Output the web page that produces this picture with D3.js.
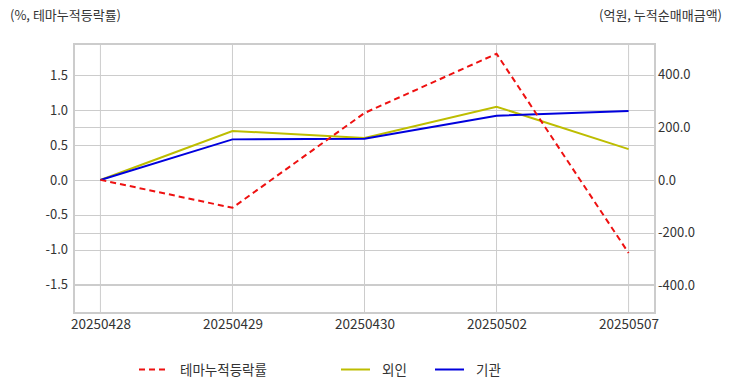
<!DOCTYPE html>
<html>
<head>
<meta charset="utf-8">
<script src="https://cdn.jsdelivr.net/npm/d3@7"></script>
<style>
  html, body { margin: 0; padding: 0; background: #fff; }
  svg text { font-family: "Noto Sans CJK KR", "Noto Sans", sans-serif; fill: #333; }
</style>
</head>
<body>
<svg id="chart" width="732" height="392"></svg>
<script>
const categories = ["20250428", "20250429", "20250430", "20250502", "20250507"];
const themeReturn = [0.0, -0.40, 0.96, 1.81, -1.05];      // %, 테마누적등락률 (left axis)
const foreignNet = [0, 186, 159, 278, 117];                // 억원, 외인 (right axis)
const instNet = [0, 154, 156, 244, 262];                   // 억원, 기관 (right axis)
const leftTicks = [-1.5, -1.0, -0.5, 0.0, 0.5, 1.0, 1.5];
const rightTicks = [-400, -200, 0, 200, 400];
const leftTitle = "(%, 테마누적등락률)";
const rightTitle = "(억원, 누적순매매금액)";
const seriesNames = ["테마누적등락률", "외인", "기관"];

const svg = d3.select("#chart");
const m = { left: 74, right: 655, top: 44, bottom: 313 };

const x = d3.scalePoint().domain(categories).range([m.left, m.right]).padding(0.2);
const yL = d3.scaleLinear().domain([-1.91, 1.95]).range([m.bottom, m.top]);
const yR = d3.scaleLinear().domain([-505, 516]).range([m.bottom, m.top]);

const grid = svg.append("g");
grid.selectAll("line.v").data(categories).join("line")
  .attr("x1", d => x(d)).attr("x2", d => x(d))
  .attr("y1", m.top).attr("y2", m.bottom)
  .attr("stroke", "#cccccc").attr("stroke-width", 1);
grid.selectAll("line.hl").data(leftTicks).join("line")
  .attr("x1", m.left).attr("x2", m.right)
  .attr("y1", d => Math.round(yL(d)) + 0.5).attr("y2", d => Math.round(yL(d)) + 0.5)
  .attr("stroke", "#cccccc").attr("stroke-width", 1);
grid.selectAll("line.hr").data(rightTicks).join("line")
  .attr("x1", m.left).attr("x2", m.right)
  .attr("y1", d => Math.round(yR(d)) + 0.5).attr("y2", d => Math.round(yR(d)) + 0.5)
  .attr("stroke", "#cccccc").attr("stroke-width", 1);

svg.append("rect")
  .attr("x", m.left).attr("y", m.top)
  .attr("width", m.right - m.left).attr("height", m.bottom - m.top)
  .attr("fill", "none").attr("stroke", "#cccccc").attr("stroke-width", 2);

const fmt = d => d3.format(".1f")(d).replace("−", "-");
const axL = svg.append("g").attr("transform", `translate(${m.left},0)`)
  .call(d3.axisLeft(yL).tickValues(leftTicks).tickFormat(fmt).tickSize(0).tickPadding(6));
const axR = svg.append("g").attr("transform", `translate(${m.right},0)`)
  .call(d3.axisRight(yR).tickValues(rightTicks).tickFormat(fmt).tickSize(0).tickPadding(3));
const axB = svg.append("g").attr("transform", `translate(0,${m.bottom})`)
  .call(d3.axisBottom(x).tickSize(0).tickPadding(6));
[axL, axR].forEach(a => {
  a.select(".domain").remove();
  a.selectAll("text").attr("font-size", 13).attr("fill", "#333")
    .style("font-family", '"Noto Sans CJK KR", "Noto Sans", sans-serif');
});
axB.select(".domain").remove();
axB.selectAll("text").attr("font-size", 13.5).attr("fill", "#333")
  .style("font-family", '"Noto Sans CJK KR", "Noto Sans", sans-serif');

svg.append("text").attr("x", 10).attr("y", 20).attr("font-size", 13).text(leftTitle);
svg.append("text").attr("x", 722).attr("y", 20).attr("font-size", 13).attr("text-anchor", "end").text(rightTitle);

const colors = { theme: "#ee1111", foreign: "#bdbd00", inst: "#0000dd" };
const lineR = d3.line().x((d, i) => x(categories[i])).y(d => yR(d));
const lineL = d3.line().x((d, i) => x(categories[i])).y(d => yL(d));
svg.append("path").datum(foreignNet).attr("d", lineR)
  .attr("fill", "none").attr("stroke", colors.foreign).attr("stroke-width", 2);
svg.append("path").datum(instNet).attr("d", lineR)
  .attr("fill", "none").attr("stroke", colors.inst).attr("stroke-width", 2);
svg.append("path").datum(themeReturn).attr("d", lineL)
  .attr("fill", "none").attr("stroke", colors.theme).attr("stroke-width", 2)
  .attr("stroke-dasharray", "6,4");

const legend = [
  { name: seriesNames[0], color: colors.theme, dash: "6,4", x: 139 },
  { name: seriesNames[1], color: colors.foreign, dash: null, x: 341 },
  { name: seriesNames[2], color: colors.inst, dash: null, x: 435 }
];
const lg = svg.append("g");
legend.forEach(l => {
  lg.append("line").attr("x1", l.x).attr("x2", l.x + 29).attr("y1", 369.5).attr("y2", 369.5)
    .attr("stroke", l.color).attr("stroke-width", 2).attr("stroke-dasharray", l.dash);
  lg.append("text").attr("x", l.x + 41).attr("y", 374.5).attr("font-size", 13.5).text(l.name);
});
</script>
</body>
</html>
